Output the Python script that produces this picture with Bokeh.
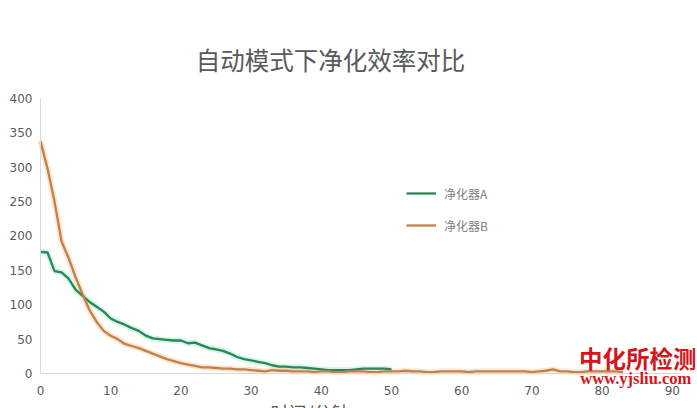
from bokeh.plotting import figure
from bokeh.models import Range1d, Legend, LegendItem, Label, FixedTicker, ColumnDataSource
from bokeh.embed import file_html
from bokeh.resources import INLINE

chart_title = "自动模式下净化效率对比"
x_label = "时间/分钟"
series_names = ["净化器A", "净化器B"]

green_minutes = list(range(0, 51))
green_values = [177, 176, 149, 147, 138, 122, 113, 104, 97, 90,
                80, 75, 71, 66, 62, 55, 51, 50, 49, 48,
                48, 44, 45, 41, 37, 35, 33, 29, 24, 21,
                19, 17, 15, 12, 10, 10, 9, 9, 8, 7,
                6, 5, 5, 5, 5, 6, 7, 7, 7, 7, 6]

orange_minutes = list(range(0, 84))
orange_values = [338, 298, 250, 192, 168, 140, 115, 92, 75, 62,
                 55, 50, 43, 40, 37, 33, 29, 25, 21, 18,
                 15, 13, 11, 9, 9, 8, 7, 7, 6, 6,
                 5, 4, 3, 5, 4, 4, 3, 3, 3, 2,
                 3, 3, 2, 2, 3, 3, 3, 2, 2, 3,
                 3, 3, 4, 3, 3, 2, 2, 3, 3, 3,
                 3, 2, 3, 3, 3, 3, 3, 3, 3, 3,
                 2, 3, 4, 6, 3, 3, 2, 2, 3, 3,
                 3, 3, 3, 2]

x_ticks = [0, 10, 20, 30, 40, 50, 60, 70, 80, 90]
y_ticks = [0, 50, 100, 150, 200, 250, 300, 350, 400]
x_axis_end = 91.2
y_axis_end = 400

watermark_cn = "中化所检测"
watermark_url = "www.yjsliu.com"

# frame spans the whole canvas; axes are pinned at data zero
p = figure(width=697, height=408, output_backend="svg", toolbar_location=None, title=None,
           x_range=Range1d(-5.698, 93.59), y_range=Range1d(-50.9, 542.5))
p.min_border = 0
p.outline_line_color = None
p.xgrid.visible = False
p.ygrid.visible = False
p.background_fill_color = "white"
p.border_fill_color = "white"

for ax in (p.xaxis[0], p.yaxis[0]):
    ax.fixed_location = 0
    ax.axis_line_color = "#d9d9d9"
    ax.axis_line_width = 1
    ax.major_tick_in = 0
    ax.major_tick_out = 0
    ax.minor_tick_in = 0
    ax.minor_tick_out = 0
    ax.major_label_text_color = "#595959"
    ax.major_label_text_font = "DejaVu Sans"
    ax.major_label_text_font_size = "12px"
p.xaxis[0].ticker = FixedTicker(ticks=x_ticks)
p.yaxis[0].ticker = FixedTicker(ticks=y_ticks)
p.xaxis[0].bounds = (0, x_axis_end)
p.yaxis[0].bounds = (0, y_axis_end)
p.xaxis[0].major_label_standoff = 12
p.yaxis[0].major_label_standoff = 8

gsrc = ColumnDataSource(dict(x=green_minutes, y=green_values))
osrc = ColumnDataSource(dict(x=orange_minutes, y=orange_values))

p.line("x", "y", source=gsrc, line_color="#a8f0d4", line_width=6, line_alpha=0.5)
p.line("x", "y", source=osrc, line_color="#ffcf9e", line_width=6, line_alpha=0.5)
g = p.line("x", "y", source=gsrc, line_color="#2a8656", line_width=2.3)
o = p.line("x", "y", source=osrc, line_color="#c0814f", line_width=2.3)

legend = Legend(items=[LegendItem(label=series_names[0], renderers=[g]),
                       LegendItem(label=series_names[1], renderers=[o])],
                location=(406, 173))
legend.border_line_color = None
legend.background_fill_alpha = 0
legend.padding = 5
legend.spacing = 12
legend.glyph_width = 30
legend.glyph_height = 20
legend.label_height = 20
legend.label_text_font = "Noto Sans CJK SC"
legend.label_text_font_size = "12px"
legend.label_text_color = "#7f7f7f"
legend.label_standoff = 8
p.add_layout(legend)

p.add_layout(Label(x=41.3, y=456.8, text=chart_title, text_align="center", text_baseline="middle",
                   text_font="Noto Sans CJK SC", text_font_size="24.5px", text_color="#595959"))

p.add_layout(Label(x=38.4, y=-36.4, text=x_label, text_align="center", text_baseline="top",
                   text_font="Noto Sans CJK SC", text_font_size="18px", text_color="#595959"))

p.add_layout(Label(x=76.7, y=46.6, text=watermark_cn, text_align="left", text_baseline="top",
                   text_font="Noto Sans CJK SC", text_font_size="23.5px", text_font_style="bold",
                   text_color="#d7141a"))
p.add_layout(Label(x=76.9, y=7.0, text=watermark_url, text_align="left", text_baseline="top",
                   text_font="Liberation Serif", text_font_size="16.5px", text_font_style="bold",
                   text_color="#d7141a"))

open("out.html", "w").write(file_html(p, INLINE))
